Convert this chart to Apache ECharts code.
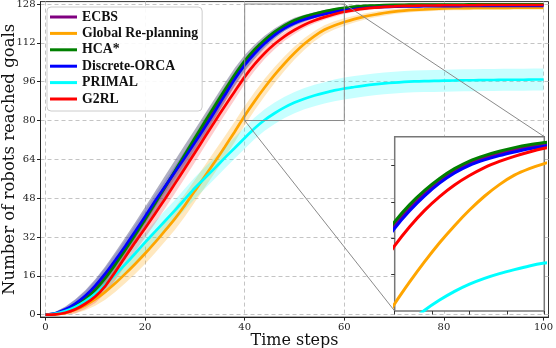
<!DOCTYPE html>
<html><head><meta charset="utf-8">
<script src="https://cdn.jsdelivr.net/npm/echarts@6/dist/echarts.min.js"></script>
<style>html,body{margin:0;padding:0;background:#fff}#c{width:556px;height:348px}</style>
</head><body><div id="c"></div>
<script>
// ---- data ----
const steps = [0,2,4,6,8,10,12,14,16,18,20,22,24,26,28,30,32,34,36,38,40,42,44,46,48,50,52,54,56,58,60,62,64,66,68,70,72,74,76,78,80,82,84,86,88,90,92,94,96,98,100];
const seriesNames = ['ECBS','Global Re-planning','HCA*','Discrete-ORCA','PRIMAL','G2RL'];
const ecbs = [0,0.4,1.8,4.0,7.1,11.1,16.0,21.5,27.4,33.5,39.8,46.2,52.6,59.0,65.4,71.8,78.3,84.9,91.5,97.9,103.7,108.4,112.4,115.8,118.6,120.7,122.2,123.4,124.4,125.2,125.9,126.4,126.7,127.0,127.2,127.3,127.4,127.4,127.5,127.5,127.5,127.5,127.5,127.6,127.6,127.6,127.6,127.6,127.6,127.6,127.6];
const globalRe = [0,0.1,0.7,2.0,3.9,6.4,9.4,12.9,16.8,20.9,25.2,29.8,34.6,39.6,45.1,51.0,57.0,63.0,69.1,75.4,82.0,88.0,93.6,98.8,103.5,107.8,111.6,114.8,117.4,119.2,120.6,121.8,122.8,123.6,124.3,124.9,125.3,125.6,125.8,126.0,126.2,126.3,126.3,126.4,126.4,126.4,126.4,126.5,126.5,126.5,126.5];
const hca = [0,0.3,1.5,3.5,6.4,10.2,15.0,20.6,26.6,32.8,39.2,45.8,52.5,59.2,66.0,72.8,79.5,86.1,92.6,98.9,104.6,109.3,113.2,116.5,119.2,121.3,122.8,124.0,125.0,125.8,126.4,126.9,127.2,127.4,127.6,127.7,127.7,127.8,127.8,127.8,127.8,127.8,127.8,127.9,127.9,127.9,127.9,127.9,127.9,127.9,127.9];
const orca = [0,0.6,2.2,4.6,7.8,12.0,16.9,22.4,28.2,34.3,40.5,46.8,52.8,58.8,64.8,70.9,77.2,83.7,90.4,97.0,102.8,107.6,111.7,115.2,118.0,120.1,121.6,122.8,123.8,124.7,125.4,125.9,126.3,126.6,126.8,126.9,127.0,127.0,127.1,127.1,127.1,127.1,127.2,127.2,127.2,127.2,127.2,127.2,127.2,127.2,127.2];
const primal = [0,0.4,1.5,3.2,5.6,8.6,12.3,16.4,20.7,25.2,29.8,34.2,38.6,43.0,47.6,52.2,56.3,60.4,64.6,68.7,72.8,76.8,80.2,83.0,85.4,87.4,89.0,90.3,91.4,92.4,93.2,93.8,94.4,94.9,95.3,95.6,95.9,96.1,96.2,96.3,96.4,96.5,96.6,96.6,96.7,96.7,96.8,96.8,96.8,96.9,96.9];
const g2rl = [0,0.1,0.8,2.2,4.5,7.5,11.8,17.6,23.8,29.8,35.6,41.6,47.7,54.0,60.3,66.7,73.2,79.6,85.9,92.0,98.0,103.2,107.7,111.5,114.7,117.3,119.5,121.2,122.6,123.8,124.8,125.5,126.1,126.5,126.8,127.0,127.2,127.3,127.4,127.4,127.5,127.5,127.5,127.5,127.6,127.6,127.6,127.6,127.6,127.6,127.6];
// band half-widths (spread) per series
const ecbsSd = [0,0.8,1.6,2.4,3.0,3.5,3.9,4.2,4.4,4.5,4.6,4.6,4.6,4.6,4.6,4.5,4.4,4.2,4.0,3.7,3.3,2.9,2.5,2.1,1.8,1.6,1.4,1.2,1.1,1.0,0.9,0.9,0.8,0.8,0.8,0.7,0.7,0.7,0.7,0.7,0.7,0.6,0.6,0.6,0.6,0.6,0.6,0.6,0.6,0.6,0.6];
const globalSd = [0,0.3,0.9,1.5,2.1,2.7,3.2,3.6,3.9,4.1,4.3,4.4,4.5,4.6,4.6,4.6,4.6,4.5,4.4,4.2,4.0,3.8,3.6,3.3,3.0,2.7,2.4,2.1,1.9,1.7,1.5,1.4,1.3,1.2,1.1,1.0,1.0,0.9,0.9,0.9,0.9,0.9,0.9,0.9,0.9,0.9,0.9,0.9,0.9,0.9,0.9];
const hcaSd = [0,0.3,0.6,0.9,1.1,1.3,1.4,1.5,1.5,1.5,1.5,1.5,1.5,1.5,1.5,1.5,1.5,1.5,1.4,1.3,1.2,1.0,0.9,0.8,0.7,0.6,0.6,0.5,0.5,0.5,0.5,0.5,0.5,0.5,0.5,0.5,0.5,0.5,0.5,0.5,0.5,0.5,0.5,0.5,0.5,0.5,0.5,0.5,0.5,0.5,0.5];
const orcaSd = [0,0.5,1.0,1.5,1.9,2.2,2.4,2.5,2.6,2.6,2.6,2.6,2.6,2.6,2.6,2.5,2.4,2.3,2.2,2.0,1.8,1.6,1.4,1.2,1.0,0.9,0.8,0.7,0.6,0.6,0.5,0.5,0.5,0.5,0.5,0.5,0.5,0.5,0.5,0.5,0.5,0.5,0.5,0.5,0.5,0.5,0.5,0.5,0.5,0.5,0.5];
const primalSd = [0,0.5,1.1,1.7,2.3,2.8,3.2,3.5,3.8,4.0,4.1,4.2,4.3,4.3,4.4,4.4,4.4,4.4,4.4,4.4,4.4,4.4,4.4,4.4,4.4,4.4,4.4,4.4,4.4,4.5,4.5,4.5,4.5,4.5,4.5,4.5,4.5,4.5,4.5,4.5,4.5,4.5,4.5,4.5,4.5,4.5,4.5,4.5,4.5,4.5,4.5];
const g2rlSd = [0,0.4,1.0,1.6,2.2,2.7,3.1,3.4,3.6,3.8,3.9,4.0,4.0,4.0,4.0,3.9,3.8,3.7,3.5,3.3,3.0,2.7,2.4,2.1,1.8,1.6,1.4,1.2,1.1,1.0,0.9,0.8,0.8,0.7,0.7,0.7,0.6,0.6,0.6,0.6,0.6,0.6,0.6,0.6,0.6,0.6,0.6,0.6,0.6,0.6,0.6];
const xTicks = [0,20,40,60,80,100];
const yTicks = [0,16,32,48,64,80,96,112,128];
const insetXTicks = [40,45,50,55,60];
const insetYTicks = [90,100,110,120];
const zoomBox = {x0:40, x1:60, y0:80, y1:128};

// ---- styling ----
const colors = ['#800080','#FFA500','#008000','#0000FF','#00FFFF','#FF0000'];
const bandColors = ['rgba(95,95,130,0.5)','rgba(255,165,0,0.25)','rgba(0,128,0,0.18)','rgba(0,0,255,0.16)','rgba(0,255,255,0.22)','rgba(255,0,0,0.2)'];
const allY = [ecbs, globalRe, hca, orca, primal, g2rl];
const allSd = [ecbsSd, globalSd, hcaSd, orcaSd, primalSd, g2rlSd];
const tickFont = {fontFamily:'DejaVu Serif', fontSize:10, color:'#222'};

const chart = echarts.init(document.getElementById('c'), null, {renderer:'canvas'});

const series = [];
allY.forEach((ys, k) => {
  const sd = allSd[k];
  series.push({
    type:'custom', name: seriesNames[k] + ' band', xAxisIndex:0, yAxisIndex:0, z:1, silent:true, clip:true,
    data:[[0,0]],
    renderItem: (params, api) => {
      const up = steps.map((x,i) => api.coord([x, ys[i] + sd[i]]));
      const lo = steps.map((x,i) => api.coord([x, Math.max(0, ys[i] - sd[i])])).reverse();
      return {type:'polygon', shape:{points: up.concat(lo)}, style:{fill: bandColors[k]}};
    }
  });
});
allY.forEach((ys, k) => {
  series.push({
    type:'line', name: seriesNames[k], xAxisIndex:0, yAxisIndex:0, z:2,
    data: steps.map((x,i) => [x, ys[i]]), showSymbol:false, symbol:'none', smooth:0.2,
    lineStyle:{color: colors[k], width:2.7}, itemStyle:{color: colors[k]}
  });
});
allY.forEach((ys, k) => {
  series.push({
    type:'line', name: seriesNames[k], xAxisIndex:1, yAxisIndex:1, z:6, clip:true,
    data: steps.map((x,i) => [x, ys[i]]), showSymbol:false, symbol:'none', smooth:0.2,
    lineStyle:{color: colors[k], width:3}, itemStyle:{color: colors[k]}
  });
});

const option = {
  animation:false,
  backgroundColor:'#fff',
  grid:[
    {left:40.5, top:1.6, width:508, height:315.5, show:true, borderColor:'#333', borderWidth:1, backgroundColor:'transparent', containLabel:false, outerBoundsMode:'none'},
    {left:394.7, top:136.7, width:149.6, height:174.3, show:true, borderColor:'#777', borderWidth:1.5, backgroundColor:'#fff', z:5, containLabel:false, outerBoundsMode:'none'}
  ],
  legend:{
    data: seriesNames, orient:'vertical', left:47, top:7, icon:'rect', itemWidth:27, itemHeight:3, itemGap:2.4,
    padding:[3,4,5,3], backgroundColor:'rgba(255,255,255,0.9)', borderColor:'#ccc', borderWidth:1, borderRadius:4,
    textStyle:{fontFamily:'Liberation Serif', fontWeight:'bold', fontSize:13.8, color:'#111', lineHeight:14}, z:8
  },
  xAxis:[
    {type:'value', gridIndex:0, min:-1, max:101,
     name:'Time steps', nameLocation:'middle', nameGap:16, nameMoveOverlap:false,
     nameTextStyle:{fontFamily:'DejaVu Serif', fontSize:16, color:'#111'},
     axisLine:{show:true, onZero:false, lineStyle:{color:'#222', width:1}},
     axisTick:{show:true, length:3.5, lineStyle:{color:'#222'}, customValues:xTicks},
     axisLabel:Object.assign({margin:5, customValues:xTicks}, tickFont),
     splitLine:{show:true, lineStyle:{color:'#c4c4c4', type:[4,3], width:1}}},
    {type:'value', gridIndex:1, min:zoomBox.x0, max:zoomBox.x1, z:6,
     axisLine:{show:false}, axisLabel:{show:false},
     axisTick:{show:true, length:3.5, lineStyle:{color:'#333'}, customValues:insetXTicks},
     splitLine:{show:false}}
  ],
  yAxis:[
    {type:'value', gridIndex:0, min:-1, max:129,
     name:'Number of robots reached goals', nameLocation:'middle', nameGap:22, nameMoveOverlap:false,
     nameTextStyle:{fontFamily:'DejaVu Serif', fontSize:16.5, color:'#111'},
     axisLine:{show:true, onZero:false, lineStyle:{color:'#222', width:1}},
     axisTick:{show:true, length:3.5, lineStyle:{color:'#222'}, customValues:yTicks},
     axisLabel:Object.assign({margin:5, customValues:yTicks}, tickFont),
     splitLine:{show:true, lineStyle:{color:'#c4c4c4', type:[4,3], width:1}}},
    {type:'value', gridIndex:1, min:zoomBox.y0, max:zoomBox.y1, z:6,
     axisLine:{show:false}, axisLabel:{show:false},
     axisTick:{show:true, length:3.5, lineStyle:{color:'#333'}, customValues:insetYTicks},
     splitLine:{show:false}}
  ],
  series: series
};
chart.setOption(option);

const m = (p) => chart.convertToPixel({xAxisIndex:0, yAxisIndex:0}, p);
const ins = (p) => chart.convertToPixel({xAxisIndex:1, yAxisIndex:1}, p);
const r0 = m([zoomBox.x0, zoomBox.y1]), r1 = m([zoomBox.x1, zoomBox.y0]);
const cTR = m([zoomBox.x1, zoomBox.y1]), iTR = ins([zoomBox.x1, zoomBox.y1]);
const cBL = m([zoomBox.x0, zoomBox.y0]), iBL = ins([zoomBox.x0, zoomBox.y0]);
chart.setOption({graphic:[
  {type:'rect', z:3, silent:true, shape:{x:r0[0], y:r0[1], width:r1[0]-r0[0], height:r1[1]-r0[1]}, style:{fill:'none', stroke:'#8a8a8a', lineWidth:1}},
  {type:'line', z:3, silent:true, shape:{x1:cTR[0], y1:cTR[1], x2:iTR[0], y2:iTR[1]}, style:{stroke:'#8a8a8a', lineWidth:1}},
  {type:'line', z:3, silent:true, shape:{x1:cBL[0], y1:cBL[1], x2:iBL[0], y2:iBL[1]}, style:{stroke:'#8a8a8a', lineWidth:1}}
]});
</script></body></html>
